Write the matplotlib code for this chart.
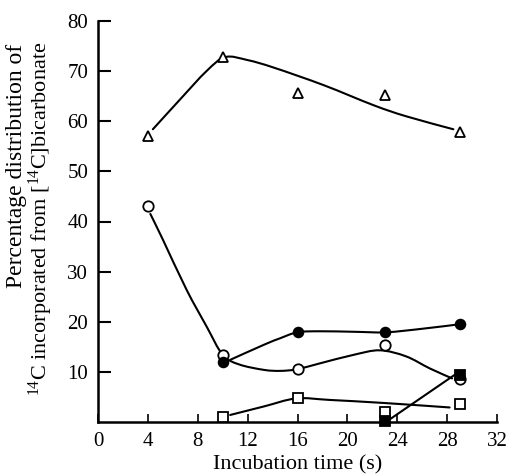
import numpy as np
import matplotlib
matplotlib.use('Agg')
import matplotlib.pyplot as plt
from matplotlib.path import Path
from matplotlib.patches import PathPatch

plt.rcParams['font.family'] = 'Liberation Serif'
plt.rcParams['mathtext.fontset'] = 'custom'
plt.rcParams['mathtext.rm'] = 'Liberation Serif'
plt.rcParams['mathtext.it'] = 'Liberation Serif:italic'

# ---------------------------------------------------------------- data

time = [4, 10, 16, 23, 29]
time4 = [10, 16, 23, 29]

tri = [57.0, 72.9, 65.6, 65.3, 57.9]          # open triangles
open_circ = [43.0, 13.4, 10.6, 15.3, 8.5]     # open circles
fill_circ = [11.9, 17.9, 18.0, 19.6]          # filled circles (from 10 s)
open_sq = [0.9, 4.8, 2.0, 3.5]                # open squares (from 10 s)
fill_sq_t = [23, 29]
fill_sq = [0.1, 9.4]                          # filled squares

# hand-drawn fitted curves
tri_fit_x = [4.4, 6.6, 8.7, 10.2, 12.0, 14.1, 18.1, 22.1, 24.7, 28.5]
tri_fit_y = [58.4, 64.4, 70.0, 72.8, 72.2, 70.7, 67.2, 63.2, 61.0, 58.4]

oc_fit_x = [4.2, 5.2, 7.1, 8.7, 10.0, 11.3, 13.3, 14.6, 15.9, 17.8, 20.5, 22.6, 24.7, 26.6, 28.4]
oc_fit_y = [41.5, 36.4, 26.4, 19.1, 13.4, 11.5, 10.4, 10.2, 10.5, 11.7, 13.4, 14.3, 13.1, 10.7, 8.7]

fc_fit_x = [10.6, 13.3, 14.6, 16.0, 17.8, 20.5, 23.1, 26.0, 29.0]
fc_fit_y = [12.4, 15.4, 16.7, 17.9, 18.1, 18.0, 17.9, 18.6, 19.5]

os_fit_x = [10.6, 13.3, 15.9, 18.6, 22.9, 28.2]
os_fit_y = [1.4, 3.1, 4.7, 4.4, 3.8, 2.9]

fs_fit_x = [23.5, 28.6]
fs_fit_y = [0.7, 9.4]

# ----------------------------------------------------------------


def smooth(ax, xs, ys):
    p = np.column_stack([xs, ys]).astype(float)
    p = np.vstack([p[0], p, p[-1]])
    verts = [p[1]]
    codes = [Path.MOVETO]
    for i in range(1, len(p) - 2):
        c1 = p[i] + (p[i + 1] - p[i - 1]) / 6.
        c2 = p[i + 1] - (p[i + 2] - p[i]) / 6.
        verts += [c1, c2, p[i + 1]]
        codes += [Path.CURVE4] * 3
    ax.add_patch(PathPatch(Path(verts, codes), fill=False, lw=1.5,
                           edgecolor='k', capstyle='round', zorder=2))


fig = plt.figure(figsize=(5.08, 4.75), dpi=100)
ax = fig.add_axes([98/508., 53/475., 399/508., 401/475.])

smooth(ax, tri_fit_x, tri_fit_y)
smooth(ax, oc_fit_x, oc_fit_y)
smooth(ax, fc_fit_x, fc_fit_y)
smooth(ax, os_fit_x, os_fit_y)
ax.plot(fs_fit_x, fs_fit_y, 'k-', lw=1.5, zorder=2)

mk = dict(linestyle='none', markeredgecolor='k', markeredgewidth=1.3, zorder=3, clip_on=False)
ax.plot(time, tri, marker='^', markersize=7, markerfacecolor='white', **mk)
ax.plot(time, open_circ, marker='o', markersize=7.5, markerfacecolor='white', **mk)
ax.plot(time4, fill_circ, marker='o', markersize=7, markerfacecolor='k', **mk)
ax.plot(time4, open_sq, marker='s', markersize=6.5, markerfacecolor='white', **mk)
ax.plot(fill_sq_t, fill_sq, marker='s', markersize=6.5, markerfacecolor='k', **mk)

ax.set_xlim(0, 32)
ax.set_ylim(0, 80)
ax.set_xticks(np.arange(0, 33, 4))
ax.set_yticks(np.arange(10, 81, 10))

ax.spines['right'].set_visible(False)
ax.spines['top'].set_visible(False)
ax.spines['left'].set_linewidth(1.8)
ax.spines['bottom'].set_linewidth(1.8)

ax.tick_params(axis='y', direction='in', length=9, width=1.5, labelsize=15, pad=7)
ax.tick_params(axis='x', direction='in', length=6, width=1.2, labelsize=15, pad=7)

ax.set_xlabel('Incubation time (s)', fontsize=16, labelpad=3)

fig.text(17/508., 1 - 44/475., 'Percentage distribution of', rotation=90,
         ha='center', va='top', fontsize=17)
fig.text(41/508., 1 - 42/475., r'$^{14}$C incorporated from [$^{14}$C]bicarbonate', rotation=90,
         ha='center', va='top', fontsize=16)

fig.savefig('out.png', dpi=100)
